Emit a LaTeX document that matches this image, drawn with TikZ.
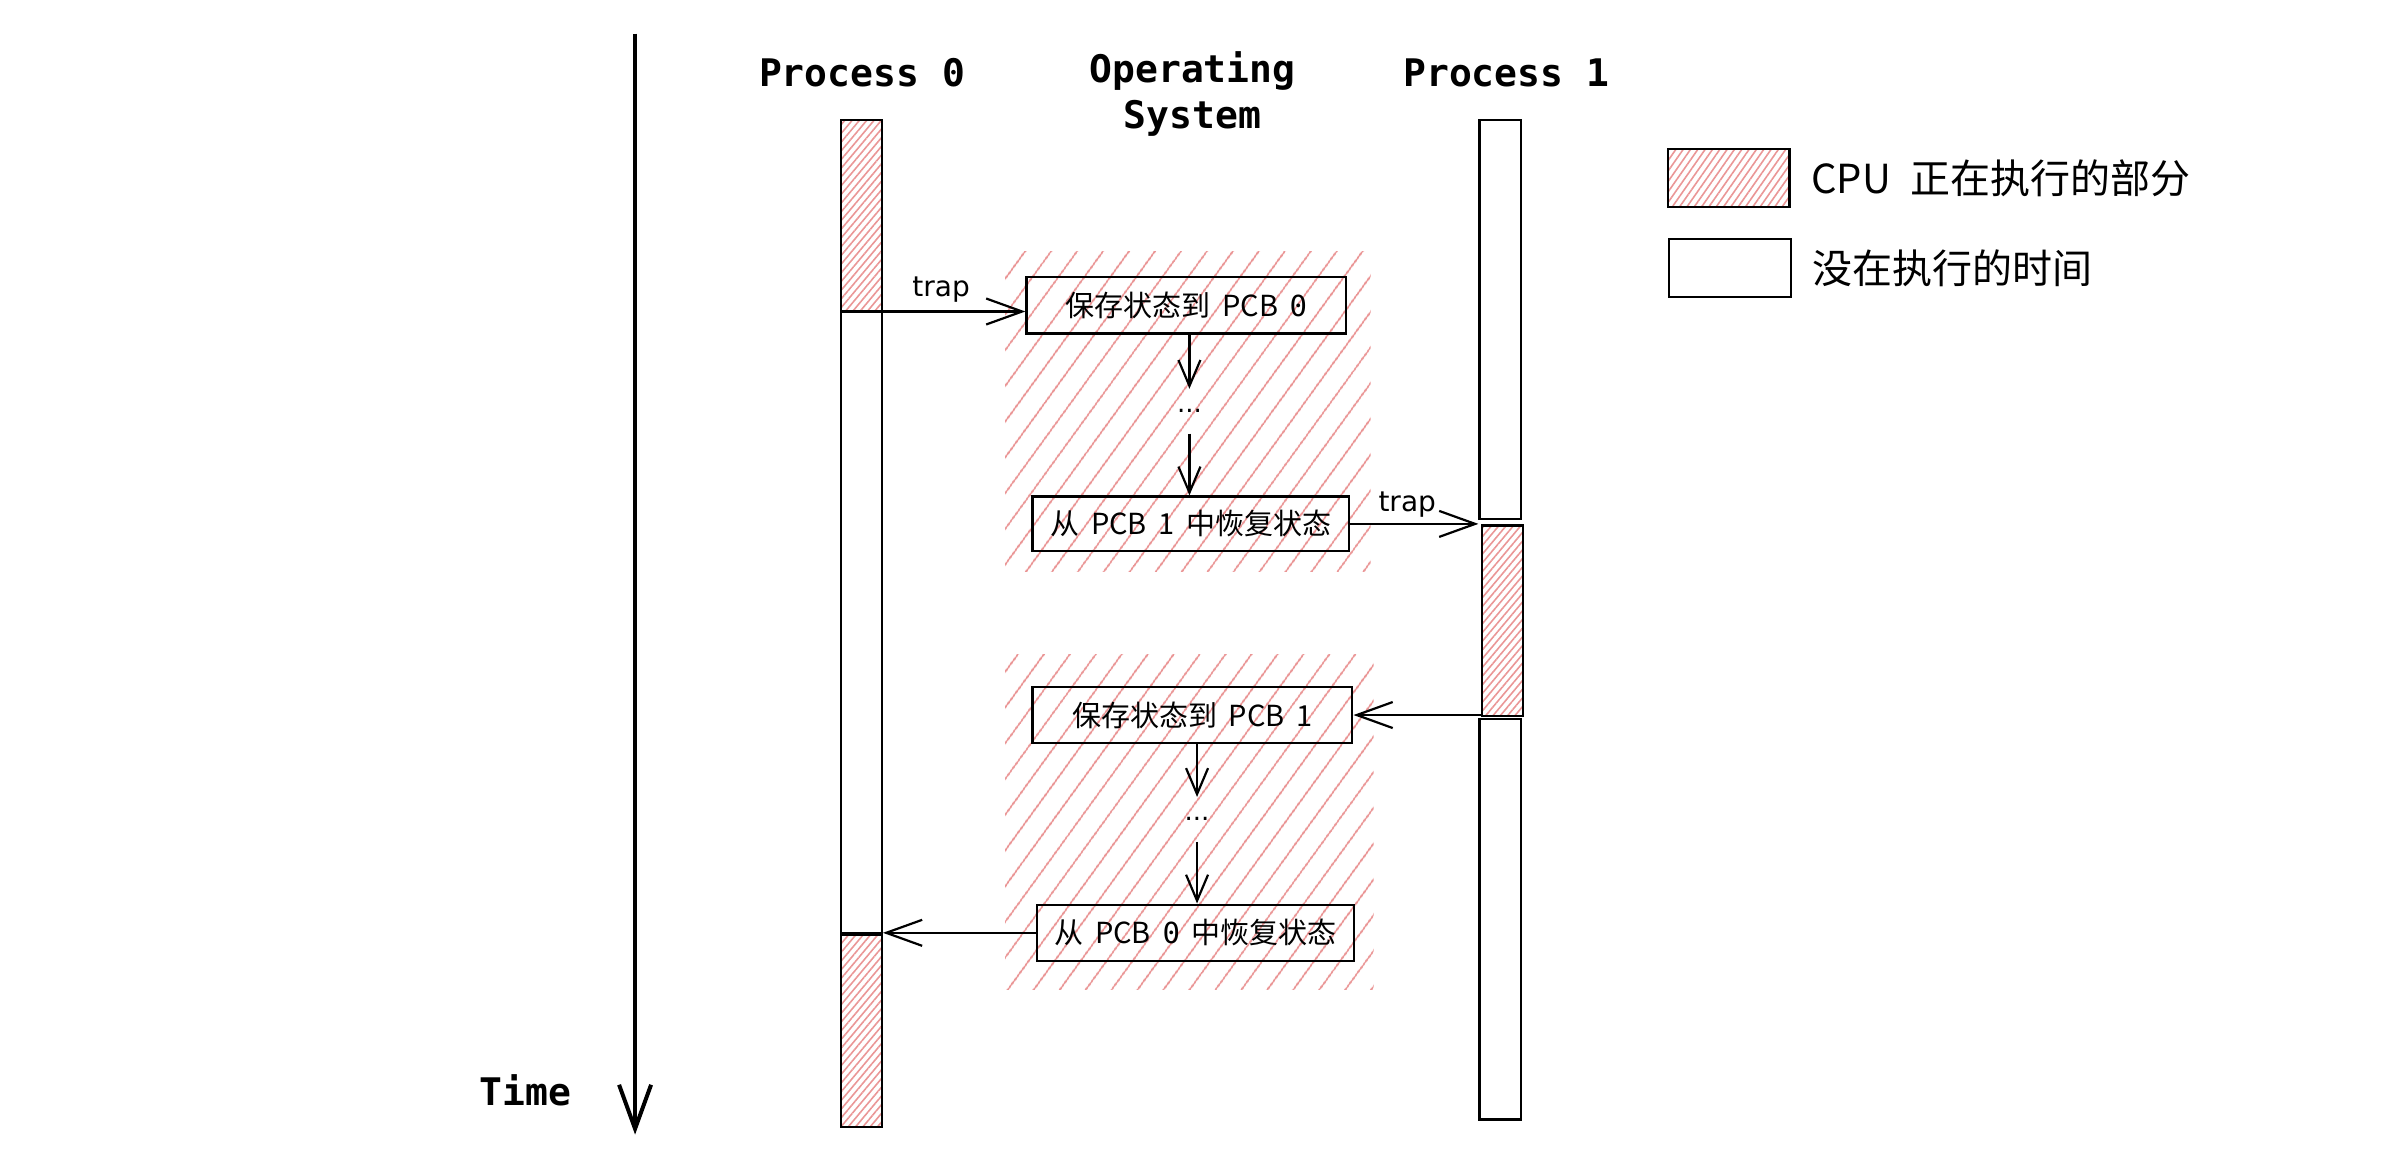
\documentclass[tikz,border=0pt]{standalone}
\usepackage{fontspec}
\setmainfont{Noto Sans CJK SC}
\newfontfamily\monofont{DejaVu Sans Mono}
\newfontfamily\handfont{DejaVu Sans}
\usetikzlibrary{arrows.meta,patterns.meta}
\definecolor{hatchred}{RGB}{234,150,150}
\newcommand\gapsp{\hspace{0.4em}}
\begin{document}
\begin{tikzpicture}[x=0.7615pt,y=-0.7615pt,
  titletext/.style={font=\monofont\bfseries\fontsize{19}{23}\selectfont, align=center, inner sep=0pt},
  opbox/.style={draw=black, line width=1.1pt, inner sep=0pt, font=\fontsize{14.5}{16}\selectfont},
  busybar/.style={draw=black, line width=1.1pt, inner sep=0pt, minimum width=20.6pt,
     pattern={Lines[angle=50,distance=2.8pt,line width=0.8pt]}, pattern color=hatchred},
  idlebar/.style={draw=black, line width=1.1pt, inner sep=0pt, minimum width=20.6pt, fill=white},
  oshatch/.style={pattern={Lines[angle=54,distance=10.5pt,line width=0.9pt]}, pattern color=hatchred},
  arr/.style={line width=1.1pt, -{Straight Barb[length=18pt,width=13pt,line width=1.1pt]}},
  darr/.style={line width=1.1pt, -{Straight Barb[length=13pt,width=11pt,line width=1.1pt]}},
  traplabel/.style={font=\handfont\fontsize{14}{16}\selectfont, inner sep=0pt},
  dots/.style={font=\handfont\fontsize{13}{14}\selectfont, inner sep=0pt, minimum height=22pt},
  legendtext/.style={font=\fontsize{20}{24}\selectfont, anchor=west, inner sep=0pt}
]
\useasboundingbox (0,0) rectangle (1568,763);

% hatched OS regions
\fill[oshatch] (660,165) rectangle (900,375);
\fill[oshatch] (660,430) rectangle (902,650);

% time axis
\coordinate (t0) at (417,22);
\coordinate (t1) at (417,745);
\draw[line width=2pt, -{Straight Barb[length=22pt,width=16pt,line width=2pt]}] (t0) -- (t1);
\node[titletext] (timelbl) at (345,716) {Time};

% titles
\node[titletext] (p0title) at (566,48) {Process 0};
\node[titletext] (ostitle) at (783,62) {Operating\\System};
\node[titletext] (p1title) at (989,48) {Process 1};

% process 0 bar
\node[busybar, minimum height=95.2pt] (p0a) at (565.5,141.5) {};
\node[idlebar, minimum height=310.7pt] (p0b) at (565.5,409) {};
\node[busybar, minimum height=96pt] (p0c) at (565.5,677) {};

% process 1 bar
\node[idlebar, minimum height=199.5pt] (p1a) at (985,210) {};
\node[busybar, minimum height=95.2pt] (p1b) at (986.5,407.5) {};
\node[idlebar, minimum height=200.3pt] (p1c) at (985,603.5) {};

% OS boxes
\node[opbox, minimum width=159.9pt, minimum height=28.2pt] (b1) at (779,200.5) {保存状态到\gapsp PCB\gapsp{\monofont 0}};
\node[opbox, minimum width=158.4pt, minimum height=27.4pt] (b2) at (782,344) {从\gapsp PCB\gapsp 1\gapsp 中恢复状态};
\node[opbox, minimum width=159.9pt, minimum height=28.2pt] (b3) at (783,469.5) {保存状态到\gapsp PCB\gapsp 1};
\node[opbox, minimum width=158.4pt, minimum height=28.2pt] (b4) at (785,612.5) {从\gapsp PCB\gapsp{\monofont 0}\gapsp 中恢复状态};

\node[dots] (dots1) at (781,270) {...};
\node[dots] (dots2) at (786,538) {...};

% connectors
\draw[arr] (p0a.south east) -- (p0a.south east -| b1.west);
\node[traplabel] (trap1) at (618,190) {trap};
\draw[darr] (b1.south -| dots1) -- (dots1.north);
\draw[darr] (dots1.south) -- (dots1.south |- b2.north);
\draw[arr] (b2.east) -- (b2.east -| p1a.west);
\node[traplabel] (trap2) at (924,331) {trap};
\draw[arr] (p1b.west |- b3.east) -- (b3.east);
\draw[darr] (b3.south -| dots2) -- (dots2.north);
\draw[darr] (dots2.south) -- (dots2.south |- b4.north);
\draw[arr] (b4.west) -- (b4.west -| p0b.east);

% legend
\node[busybar, minimum width=60.9pt, minimum height=28.9pt, pattern={Lines[angle=55,distance=3pt,line width=0.8pt]}] (lgbusy) at (1135,117) {};
\node[idlebar, minimum width=60.9pt, minimum height=28.9pt] (lgidle) at (1136,176) {};
\node[legendtext] (lgbusytxt) at (1189,117) {CPU\hspace{0.5em}正在执行的部分};
\node[legendtext] (lgidletxt) at (1190,176) {没在执行的时间};
\end{tikzpicture}
\end{document}
